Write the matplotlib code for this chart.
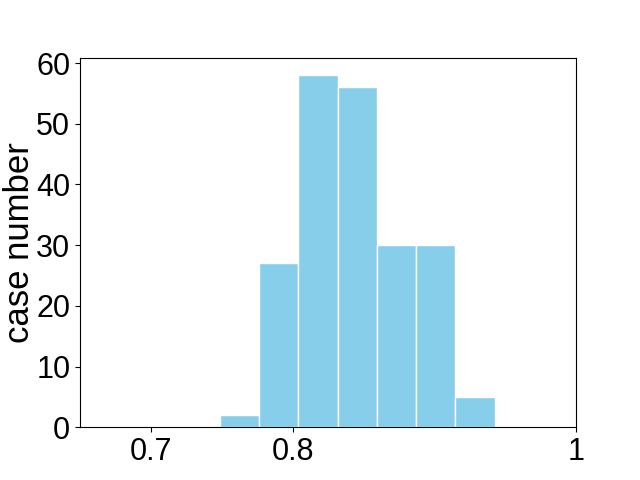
import matplotlib.pyplot as plt
import numpy as np

plt.rcParams["font.family"] = ["Liberation Sans", "DejaVu Sans"]

# bin edges and counts
bin_edges = [0.7488, 0.7765, 0.8041, 0.8318, 0.8595, 0.8872, 0.9148, 0.9425]
counts = [2, 27, 58, 56, 30, 30, 5]

centers = (np.array(bin_edges[:-1]) + np.array(bin_edges[1:])) / 2

fig, ax = plt.subplots(figsize=(6.4, 4.8), dpi=100)
ax.hist(centers, bins=bin_edges, weights=counts, color="skyblue", edgecolor="white")
ax.set_xlim(0.65, 1.0)
ax.set_xticks([0.7, 0.8, 1.0])
ax.set_xticklabels(["0.7", "0.8", "1"])
ax.set_yticks(np.arange(0, 61, 10))
ax.tick_params(labelsize=22)
ax.set_ylabel("case number", fontsize=25, labelpad=0)

fig.savefig("out.png")
